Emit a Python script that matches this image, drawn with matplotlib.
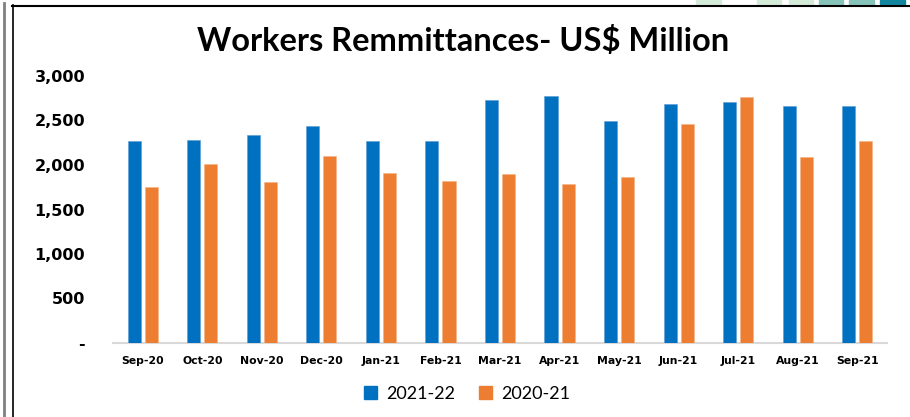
import matplotlib.pyplot as plt
import numpy as np
from matplotlib.patches import Rectangle
from matplotlib.lines import Line2D

MONTHS = ["Sep-20", "Oct-20", "Nov-20", "Dec-20", "Jan-21", "Feb-21", "Mar-21",
          "Apr-21", "May-21", "Jun-21", "Jul-21", "Aug-21", "Sep-21"]
FY22 = [2275, 2278, 2342, 2440, 2266, 2266, 2727, 2778, 2495, 2687, 2707, 2658, 2663]
FY21 = [1755, 2007, 1814, 2096, 1909, 1825, 1895, 1790, 1866, 2466, 2768, 2095, 2275]
YTICKS = [0, 500, 1000, 1500, 2000, 2500, 3000]

BLUE = "#0070c0"
ORANGE = "#ed7d31"

W, H = 910, 417
fig = plt.figure(figsize=(W / 100, H / 100), dpi=100)
ax = fig.add_axes([113 / W, (H - 343) / H, 774 / W, 267 / H])

x = np.arange(len(MONTHS))
ax.bar(x - 0.143, FY22, width=0.22, color=BLUE, edgecolor="#5b9bd5",
       linewidth=0.4, label="2021-22", zorder=3)
ax.bar(x + 0.143, FY21, width=0.22, color=ORANGE, edgecolor="#f4b183",
       linewidth=0.4, label="2020-21", zorder=3)

ax.set_xlim(-0.5, len(MONTHS) - 0.5)
ax.set_ylim(0, 3000)
ax.set_yticks(YTICKS)
ax.set_yticklabels(["-" if v == 0 else f"{v:,}" for v in YTICKS],
                   fontsize=11.5, fontweight="bold", family="DejaVu Sans")
ax.set_xticks(x)
ax.set_xticklabels(MONTHS, fontsize=7.8, fontweight="bold", family="DejaVu Sans")
ax.tick_params(axis="both", length=0)
ax.tick_params(axis="y", pad=20)
ax.tick_params(axis="x", pad=9)
for s in ("top", "right", "left"):
    ax.spines[s].set_visible(False)
ax.spines["bottom"].set_color("#d9d9d9")
ax.spines["bottom"].set_linewidth(1.5)

fig.text(463 / W, 1 - 41 / H, "Workers Remmittances- US$ Million", ha="center",
         va="center", fontsize=23.5, fontweight="bold", family="Lato")

handles = [Rectangle((0, 0), 1, 1, color=BLUE), Rectangle((0, 0), 1, 1, color=ORANGE)]
fig.legend(handles, ["2021-22", "2020-21"], loc="center",
           bbox_to_anchor=(467 / W, 1 - 394 / H), ncol=2, frameon=False,
           prop={"family": "Lato", "size": 13}, handlelength=0.75,
           handleheight=0.75, handletextpad=0.5, columnspacing=1.3)

# frame lines
fig.add_artist(Line2D([3.5 / W, 3.5 / W], [0, 1 - 3 / H], color="#808080", lw=2))
fig.add_artist(Line2D([12.5 / W, 12.5 / W], [0, 1 - 5 / H], color="black", lw=1.2))
fig.add_artist(Line2D([12 / W, 1], [1 - 5.5 / H, 1 - 5.5 / H], color="black", lw=1.5))

# decorative blocks at top right
for x0, x1, c in [(696, 721, "#d5ebd9"), (757, 781, "#d5ebd9"), (789, 813, "#d5ebd9"),
                  (819, 843, "#86c3b9"), (849, 874, "#86c3b9"), (880, 905, "#12869f")]:
    fig.add_artist(Rectangle((x0 / W, 1 - 4 / H), (x1 - x0) / W, 4 / H,
                             color=c, transform=fig.transFigure))

fig.savefig("out.png", dpi=100)
